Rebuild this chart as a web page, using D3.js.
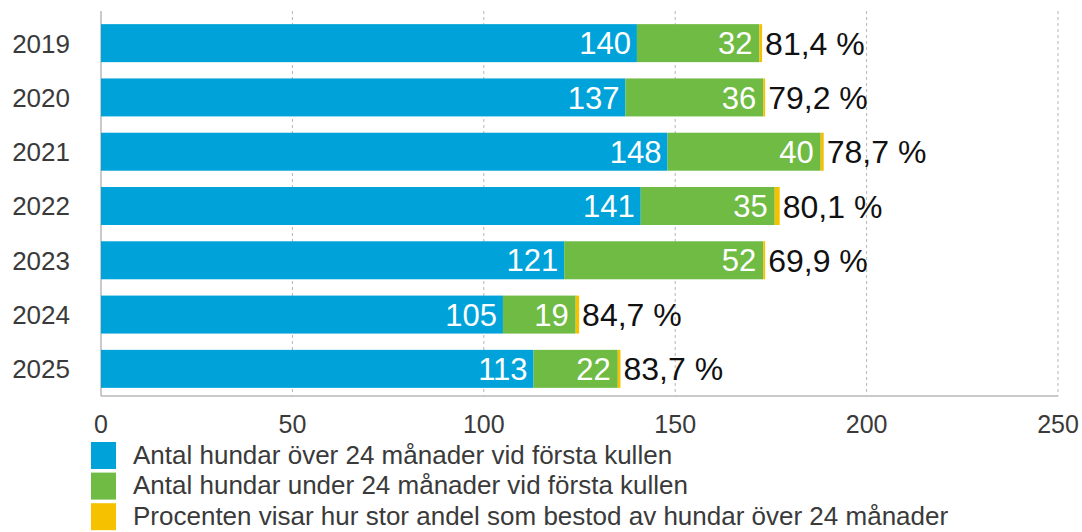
<!DOCTYPE html>
<html>
<head>
<meta charset="utf-8">
<script src="https://cdn.jsdelivr.net/npm/d3@7"></script>
<style>
  body { margin: 0; background: #fff; }
  svg { display: block; font-family: "Liberation Sans", Arial, sans-serif; }
</style>
</head>
<body>
<div id="chart"></div>
<script>
const years = ['2019', '2020', '2021', '2022', '2023', '2024', '2025'];
const over24 = [140, 137, 148, 141, 121, 105, 113];
const under24 = [32, 36, 40, 35, 52, 19, 22];
const percentMark = [0.7, 0.5, 0.8, 1.3, 0.5, 0.9, 0.7];
const percentLabels = ['81,4 %', '79,2 %', '78,7 %', '80,1 %', '69,9 %', '84,7 %', '83,7 %'];
const xTicks = [0, 50, 100, 150, 200, 250];
const legendLabels = [
  'Antal hundar över 24 månader vid första kullen',
  'Antal hundar under 24 månader vid första kullen',
  'Procenten visar hur stor andel som bestod av hundar över 24 månader'
];
const colors = ['#00a3d9', '#6fbb44', '#f6c200'];

const width = 1082, height = 532;
const margin = { top: 11, left: 101, right: 24, bottom: 136 };

const svg = d3.select('#chart').append('svg')
  .attr('width', width).attr('height', height);

const x = d3.scaleLinear().domain([0, 250]).range([margin.left, width - margin.right]);
const y = d3.scaleBand().domain(years).range([16, height - margin.bottom]).paddingInner(0.3).paddingOuter(0.15);

// grid
svg.append('g').selectAll('line').data(xTicks.slice(1)).join('line')
  .attr('x1', d => x(d)).attr('x2', d => x(d))
  .attr('y1', margin.top).attr('y2', height - margin.bottom)
  .attr('stroke', '#b5b5b5').attr('stroke-dasharray', '3,3');

// axes lines
svg.append('line').attr('x1', x(0)).attr('x2', x(0))
  .attr('y1', margin.top).attr('y2', height - margin.bottom)
  .attr('stroke', '#b8b8b8').attr('stroke-width', 1.5);
svg.append('line').attr('x1', x(0)).attr('x2', x(250))
  .attr('y1', height - margin.bottom).attr('y2', height - margin.bottom)
  .attr('stroke', '#b8b8b8').attr('stroke-width', 1.5);

const rows = years.map((yr, i) => ({ yr, a: over24[i], b: under24[i], c: percentMark[i], p: percentLabels[i] }));

const g = svg.append('g').selectAll('g').data(rows).join('g');

g.append('rect').attr('x', x(0)).attr('y', d => y(d.yr))
  .attr('width', d => x(d.a) - x(0)).attr('height', y.bandwidth()).attr('fill', colors[0]);
g.append('rect').attr('x', d => x(d.a)).attr('y', d => y(d.yr))
  .attr('width', d => x(d.a + d.b) - x(d.a)).attr('height', y.bandwidth()).attr('fill', colors[1]);
g.append('rect').attr('x', d => x(d.a + d.b)).attr('y', d => y(d.yr))
  .attr('width', d => x(d.a + d.b + d.c) - x(d.a + d.b)).attr('height', y.bandwidth()).attr('fill', colors[2]);

const mid = d => y(d.yr) + y.bandwidth() / 2;

g.append('text').attr('x', d => x(d.a) - 6).attr('y', mid).attr('dy', '0.36em')
  .attr('text-anchor', 'end').attr('fill', '#fff').attr('font-size', 31).text(d => d.a);
g.append('text').attr('x', d => x(d.a + d.b) - 7).attr('y', mid).attr('dy', '0.36em')
  .attr('text-anchor', 'end').attr('fill', '#fff').attr('font-size', 31).text(d => d.b);
g.append('text').attr('x', d => x(d.a + d.b + d.c) + 3).attr('y', mid).attr('dy', '0.36em')
  .attr('fill', '#111').attr('font-size', 32).text(d => d.p);

// year labels
svg.append('g').selectAll('text').data(years).join('text')
  .attr('x', 70).attr('y', d => y(d) + y.bandwidth() / 2).attr('dy', '0.36em')
  .attr('text-anchor', 'end').attr('fill', '#3a3a3a').attr('font-size', 26).text(d => d);

// x tick labels
svg.append('g').selectAll('text').data(xTicks).join('text')
  .attr('x', d => x(d)).attr('y', 424).attr('dy', '0.36em')
  .attr('text-anchor', 'middle').attr('fill', '#3a3a3a').attr('font-size', 25).text(d => d);

// legend
const leg = svg.append('g').selectAll('g').data(legendLabels).join('g')
  .attr('transform', (d, i) => `translate(91, ${442 + i * 30.6})`);
leg.append('rect').attr('width', 25).attr('height', 27).attr('fill', (d, i) => colors[i]);
leg.append('text').attr('x', 42).attr('y', 13).attr('dy', '0.34em')
  .attr('fill', '#3a3a3a').attr('font-size', 26).text(d => d);
</script>
</body>
</html>
